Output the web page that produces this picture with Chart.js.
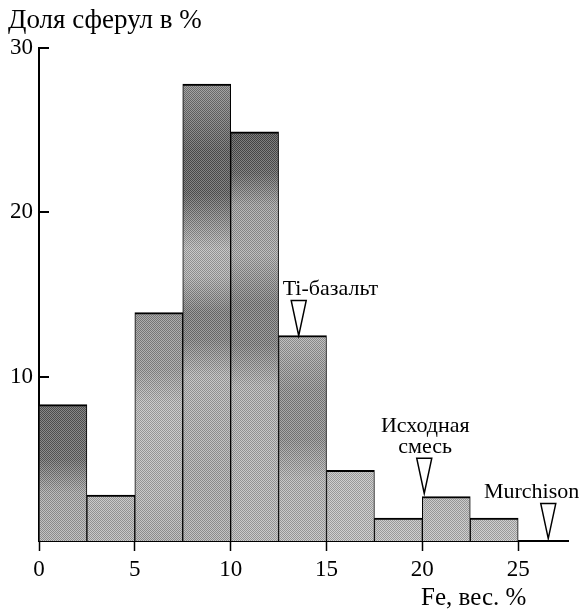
<!DOCTYPE html>
<html lang="ru">
<head>
<meta charset="utf-8">
<title>Доля сферул</title>
<script src="https://cdn.jsdelivr.net/npm/chart.js@4.4.1/dist/chart.umd.min.js"></script>
<style>
  html, body { margin: 0; padding: 0; background: #fff; }
  canvas { display: block; }
</style>
</head>
<body>
<canvas id="grafik" width="581" height="613"></canvas>
<script>
const binEdges = [0, 2.5, 5, 7.5, 10, 12.5, 15, 17.5, 20, 22.5, 25];
const shares = [8.3, 2.8, 13.9, 27.8, 24.9, 12.5, 4.3, 1.4, 2.7, 1.4];
const xTicks = [0, 5, 10, 15, 20, 25];
const yTicks = [10, 20, 30];

// reference compositions marked with arrows
const markerNames = [['Ti-базальт'], ['Исходная', 'смесь'], ['Murchison']];
const markerFe = [13.55, 20.1, 26.57];
const markerTip = [12.5, 2.9, 0.15];

// grey shading of each bar, from its top (0) to the base (1)
const barShades = [
  [[0, '#5e5e5e'], [0.4, '#686868'], [0.65, '#a8a8a8'], [1, '#b0b0b0']],
  [[0, '#bcbcbc'], [0.5, '#b4b4b4'], [1, '#b8b8b8']],
  [[0, '#929292'], [0.25, '#9a9a9a'], [0.4, '#bdbdbd'], [0.8, '#b8b8b8'], [1, '#aeaeae']],
  [[0, '#8a8a8a'], [0.15, '#5a5a5a'], [0.24, '#5e5e5e'], [0.36, '#b8b8b8'], [0.42, '#b0b0b0'],
   [0.5, '#7c7c7c'], [0.56, '#828282'], [0.64, '#b6b6b6'], [0.85, '#acacac'], [1, '#b0b0b0']],
  [[0, '#505050'], [0.1, '#606060'], [0.18, '#a0a0a0'], [0.3, '#acacac'], [0.42, '#7c7c7c'],
   [0.52, '#808080'], [0.62, '#b4b4b4'], [1, '#bababa']],
  [[0, '#b0b0b0'], [0.26, '#8e8e8e'], [0.5, '#8c8c8c'], [0.7, '#b6b6b6'], [1, '#bcbcbc']],
  [[0, '#bebebe'], [1, '#c2c2c2']],
  [[0, '#bebebe'], [1, '#c2c2c2']],
  [[0, '#bababa'], [1, '#c0c0c0']],
  [[0, '#bebebe'], [1, '#c2c2c2']]
];

const markerLabels = [
  { align: 'left', dx: -16 },
  { align: 'center', dx: 1 },
  { align: 'right', dx: 31 }
];

const serif = '"Liberation Serif", "Times New Roman", serif';

const bins = shares.map((v, i) => ({ x: (binEdges[i] + binEdges[i + 1]) / 2, y: v }));

function barFill(context) {
  const chart = context.chart;
  const area = chart.chartArea;
  if (!area || context.dataIndex === undefined) return '#aaaaaa';
  const i = context.dataIndex;
  const top = chart.scales.y.getPixelForValue(shares[i]);
  const g = chart.ctx.createLinearGradient(0, top, 0, area.bottom);
  barShades[i].forEach(([pos, c]) => g.addColorStop(pos, c));
  return g;
}

// halftone raster laid over the bar fill
function rasterPattern(ctx) {
  const c = document.createElement('canvas');
  c.width = 2;
  c.height = 2;
  const p = c.getContext('2d');
  p.fillStyle = 'rgba(0,0,0,0.2)';
  p.fillRect(0, 0, 1, 1);
  p.fillRect(1, 1, 1, 1);
  p.fillStyle = 'rgba(255,255,255,0.25)';
  p.fillRect(1, 0, 1, 1);
  p.fillRect(0, 1, 1, 1);
  return ctx.createPattern(c, 'repeat');
}

const raster = {
  id: 'raster',
  afterDatasetsDraw(chart) {
    const ctx = chart.ctx;
    const pattern = rasterPattern(ctx);
    ctx.save();
    ctx.fillStyle = pattern;
    chart.getDatasetMeta(0).data.forEach(bar => {
      const { x, y, base, width } = bar.getProps(['x', 'y', 'base', 'width'], true);
      ctx.fillRect(x - width / 2 + 1, y + 2, width - 2, base - y - 2);
    });
    ctx.restore();
  }
};

// y ticks point into the plot
const tickInside = {
  id: 'tickInside',
  afterDraw(chart) {
    const { ctx, scales: { y }, chartArea } = chart;
    ctx.save();
    ctx.strokeStyle = '#000';
    ctx.lineWidth = 2;
    y.ticks.forEach(t => {
      const py = Math.round(y.getPixelForValue(t.value));
      ctx.beginPath();
      ctx.moveTo(chartArea.left, py);
      ctx.lineTo(chartArea.left + 10, py);
      ctx.stroke();
    });
    ctx.restore();
  }
};

const arrows = {
  id: 'arrows',
  afterDatasetsDraw(chart) {
    const { ctx, scales: { x, y } } = chart;
    ctx.save();
    markerFe.forEach((fe, i) => {
      const cx = x.getPixelForValue(fe);
      const tip = y.getPixelForValue(markerTip[i]);
      const top = tip - 35;
      ctx.beginPath();
      ctx.moveTo(cx - 7.5, top);
      ctx.lineTo(cx + 7.5, top);
      ctx.lineTo(cx, tip);
      ctx.closePath();
      ctx.fillStyle = '#fff';
      ctx.fill();
      ctx.strokeStyle = '#000';
      ctx.lineWidth = 1.5;
      ctx.stroke();

      const lab = markerLabels[i];
      const lines = markerNames[i];
      ctx.fillStyle = '#000';
      ctx.font = `22px ${serif}`;
      ctx.textAlign = lab.align;
      ctx.textBaseline = 'alphabetic';
      lines.forEach((s, k) => {
        ctx.fillText(s, cx + lab.dx, top - 5.5 - (lines.length - 1 - k) * 21);
      });
    });
    ctx.restore();
  }
};

const axisTitles = {
  id: 'axisTitles',
  afterDraw(chart) {
    const ctx = chart.ctx;
    ctx.save();
    ctx.fillStyle = '#000';
    ctx.textAlign = 'left';
    ctx.textBaseline = 'alphabetic';
    ctx.font = `27px ${serif}`;
    ctx.fillText('Доля сферул в %', 8, 28);
    ctx.font = `25px ${serif}`;
    ctx.fillText('Fe, вес. %', 421, 605);
    ctx.restore();
  }
};

new Chart(document.getElementById('grafik'), {
  type: 'bar',
  data: {
    datasets: [{
      label: 'Доля сферул',
      data: bins,
      backgroundColor: barFill,
      borderColor: '#000',
      borderWidth: { top: 2, left: 1, right: 1, bottom: 0 },
      borderSkipped: false,
      barPercentage: 1,
      categoryPercentage: 1,
      grouped: false
    }]
  },
  options: {
    responsive: false,
    animation: false,
    devicePixelRatio: 1,
    layout: { padding: { top: 48, right: 13, left: 0, bottom: 0 } },
    plugins: { legend: { display: false }, tooltip: { enabled: false }, title: { display: false } },
    scales: {
      x: {
        type: 'linear',
        min: 0,
        max: 27.6,
        offset: false,
        afterBuildTicks: s => { s.ticks = xTicks.map(v => ({ value: v })); },
        afterFit: s => { s.height = 72; },
        ticks: { color: '#000', font: { family: serif, size: 23 }, padding: 5, maxRotation: 0, autoSkip: false },
        grid: { drawOnChartArea: false, drawTicks: true, tickLength: 10, color: '#000', tickWidth: 1.5, offset: false },
        border: { display: true, color: '#000', width: 2 }
      },
      y: {
        min: 0,
        max: 30,
        afterBuildTicks: s => { s.ticks = yTicks.map(v => ({ value: v })); },
        afterFit: s => { s.width = 39; },
        ticks: { color: '#000', font: { family: serif, size: 23 }, padding: 6 },
        grid: { drawOnChartArea: false, drawTicks: false },
        border: { display: true, color: '#000', width: 2 }
      }
    }
  },
  plugins: [raster, tickInside, arrows, axisTitles]
});
</script>
</body>
</html>
